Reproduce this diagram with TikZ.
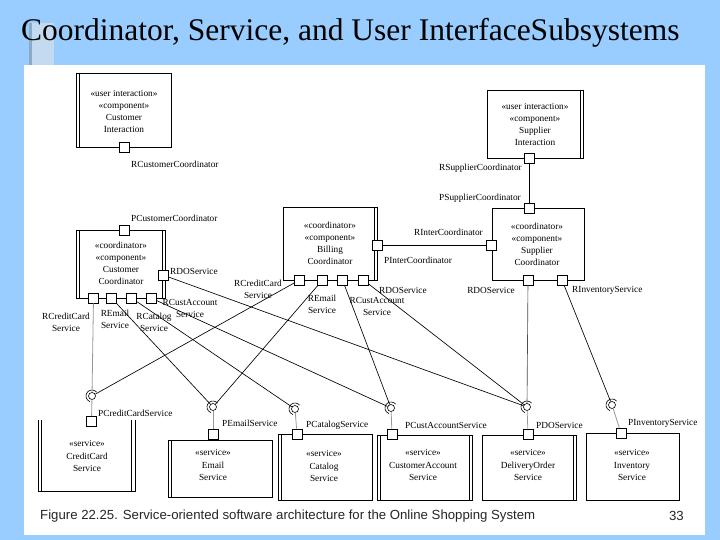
\documentclass[tikz,border=0pt]{standalone}
\usepackage{fontspec}
\setmainfont{Liberation Serif}
\newfontfamily\capfont{Liberation Sans}
\newcommand\dfont{\fontsize{9.3}{12}\selectfont}
\newcommand\sfontx{\fontsize{9.3}{12.5}\selectfont}
\definecolor{bgblue}{RGB}{153,204,255}
\definecolor{deco}{RGB}{196,218,240}
\definecolor{decodark}{RGB}{142,169,196}
\tikzset{
  box/.style={draw, line width=0.8pt, inner sep=0pt},
  dline/.style={line width=0.8pt},
  txt/.style={font=\dfont, align=center, inner sep=0pt},
  stxt/.style={font=\sfontx, align=center, inner sep=0pt},
  lbl/.style={font=\dfont, inner sep=0pt},
  port/.style={draw, fill=white, line width=0.8pt, minimum size=10pt, inner sep=0pt},
  ball/.style={circle, draw, fill=white, line width=0.6pt, minimum size=7pt, inner sep=0pt},
  sock/.style={line width=0.6pt},
  conn/.style={line width=0.65pt},
  gconn/.style={line width=0.8pt, draw=black!40},
}
\newcommand\mysocket[1]{\draw[sock] ([shift={(40:6pt)}]#1.center) arc[start angle=40,end angle=250,radius=6pt];}
\begin{document}
\begin{tikzpicture}[x=1pt,y=-1pt]
\useasboundingbox (0,0) rectangle (720,540);
\fill[bgblue] (0,0) rectangle (720,540);
\fill[white] (24,65) rectangle (705,535);
\fill[deco] (29,23) rectangle (54,65);
\fill[decodark] (29,23) rectangle (32,65);
\node[anchor=base west, font=\fontsize{31.5}{36}\selectfont, inner sep=0pt] (title) at (21,41) {Coordinator, Service, and User InterfaceSubsystems};

% ---------- top boxes ----------
\node[box, minimum width=95pt, minimum height=74pt] (ci) at (123.5,110) {};
\draw[dline] ([xshift=3.5pt]ci.north west) -- ([xshift=3.5pt]ci.south west);
\node[txt] (ci-t) at (124,111) {«user interaction»\\«component»\\Customer\\Interaction};

\node[box, minimum width=89pt, minimum height=68pt] (cc) at (120.5,264) {};
\draw[dline] ([xshift=3.5pt]cc.north west) -- ([xshift=3.5pt]cc.south west);
\draw[dline] ([xshift=-3.5pt]cc.north east) -- ([xshift=-3.5pt]cc.south east);
\node[txt] (cc-t) at (121,263.5) {«coordinator»\\«component»\\Customer\\Coordinator};

\node[box, minimum width=94pt, minimum height=73pt] (bc) at (330,243.5) {};
\draw[dline] ([xshift=-3.5pt]bc.north east) -- ([xshift=-3.5pt]bc.south east);
\node[txt] (bc-t) at (330,243.5) {«coordinator»\\«component»\\Billing\\Coordinator};

\node[box, minimum width=96pt, minimum height=68pt] (si) at (535,124) {};
\draw[dline] ([xshift=-3.5pt]si.north east) -- ([xshift=-3.5pt]si.south east);
\node[txt] (si-t) at (535,124) {«user interaction»\\«component»\\Supplier\\Interaction};

\node[box, minimum width=92pt, minimum height=72pt] (sc) at (538,244) {};
\node[txt] (sc-t) at (537,244) {«coordinator»\\«component»\\Supplier\\Coordinator};

% ---------- service boxes ----------
\draw[dline] (38,420) -- (38,491) -- (135,491) -- (135,420);
\draw[dline] (41.5,420) -- (41.5,491);
\draw[dline] (131.5,420) -- (131.5,491);
\node[stxt] (cs-t) at (87,456) {«service»\\CreditCard\\Service};

\node[box, minimum width=104pt, minimum height=57pt] (es) at (220,468.5) {};
\draw[dline] ([xshift=3.5pt]es.north west) -- ([xshift=3.5pt]es.south west);
\node[stxt] (es-t) at (213,465) {«service»\\Email\\Service};

\node[box, minimum width=94pt, minimum height=66pt] (cas) at (325,467) {};
\draw[dline] ([xshift=3.5pt]cas.north west) -- ([xshift=3.5pt]cas.south west);
\node[stxt] (cas-t) at (324,466) {«service»\\Catalog\\Service};

\node[box, minimum width=95pt, minimum height=65pt] (ca) at (424.5,467.5) {};
\draw[dline] ([xshift=3.5pt]ca.north west) -- ([xshift=3.5pt]ca.south west);
\draw[dline] ([xshift=-3.5pt]ca.north east) -- ([xshift=-3.5pt]ca.south east);
\node[stxt] (ca-t) at (423,465) {«service»\\CustomerAccount\\Service};

\node[box, minimum width=94pt, minimum height=65pt] (do) at (529,467.5) {};
\draw[dline] ([xshift=-3.5pt]do.north east) -- ([xshift=-3.5pt]do.south east);
\node[stxt] (do-t) at (528,465) {«service»\\DeliveryOrder\\Service};

\node[box, minimum width=93pt, minimum height=67pt] (is) at (632.5,466.5) {};
\node[stxt] (is-t) at (632,465) {«service»\\Inventory\\Service};

% ---------- ports ----------
\node[port] (p-ci) at (124,147) {};
\node[port] (p-cc-top) at (124,230) {};
\node[port] (p-cc-rdo) at (163,275) {};
\node[port] (p-cc-rcc) at (93.5,298) {};
\node[port] (p-cc-rem) at (111.5,298) {};
\node[port] (p-cc-rcat) at (131.5,298) {};
\node[port] (p-cc-rca) at (151,298) {};

\node[port] (p-bc-pi) at (377,245) {};
\node[port] (p-bc-1) at (299.5,280) {};
\node[port] (p-bc-2) at (322.5,280) {};
\node[port] (p-bc-3) at (342.5,280) {};
\node[port] (p-bc-4) at (363.5,280) {};

\node[port] (p-si) at (529,158) {};
\node[port] (p-sc-top) at (529,208) {};
\node[port] (p-sc-ri) at (491,245) {};
\node[port] (p-sc-rdo) at (528,280) {};
\node[port] (p-sc-rinv) at (562,280) {};

\node[port] (p-cs) at (91.5,421.5) {};
\node[port] (p-es) at (213,434) {};
\node[port] (p-cat) at (297,434) {};
\node[port] (p-ca) at (392,434) {};
\node[port] (p-do) at (528,434) {};
\node[port] (p-inv) at (621,433) {};

% ---------- balls ----------
\node[ball] (b-cs) at (92,396) {};
\node[ball] (b-es) at (213,407) {};
\node[ball] (b-cat) at (295,409) {};
\node[ball] (b-ca) at (391,408) {};
\node[ball] (b-do) at (527,407) {};
\node[ball] (b-inv) at (612,405) {};
\mysocket{b-cs}
\mysocket{b-es}
\mysocket{b-cat}
\mysocket{b-ca}
\mysocket{b-do}
\mysocket{b-inv}

% ---------- connectors ----------
\draw[conn] (p-bc-pi) -- (p-sc-ri);
\draw[conn] (p-si) -- (p-sc-top);

\draw[gconn] (p-cc-rcc) -- (b-cs);
\draw[conn] (p-cc-rem) -- (b-es);
\draw[conn] (p-cc-rcat) -- (b-cat);
\draw[conn] (p-cc-rca) -- (b-ca);
\draw[conn] (p-cc-rdo) -- (b-do);

\draw[conn] (p-bc-1) -- (b-cs);
\draw[conn] (p-bc-2) -- (b-es);
\draw[conn] (p-bc-3) -- (b-ca);
\draw[conn] (p-bc-4) -- (b-do);

\draw[conn, draw=black!70] (p-sc-rdo) -- (b-do);
\draw[conn] (p-sc-rinv) -- (b-inv);

\draw[gconn] (b-cs) -- (p-cs);
\draw[gconn] (b-es) -- (p-es);
\draw[gconn] (b-cat) -- (p-cat);
\draw[gconn] (b-ca) -- (p-ca);
\draw[gconn] (b-do) -- (p-do);
\draw[gconn] (b-inv) -- (p-inv);

% ---------- labels ----------
\node[lbl, anchor=west] (l1) at (131,164) {RCustomerCoordinator};
\node[lbl, anchor=west] (l2) at (131,218) {PCustomerCoordinator};
\node[lbl, anchor=west] (l3) at (170,271) {RDOService};
\node[lbl, align=center] (l4) at (66,322) {RCreditCard\\Service};
\node[lbl, align=center] (l5) at (115,319) {REmail\\Service};
\node[lbl, align=center] (l6) at (154,322) {RCatalog\\Service};
\node[lbl, align=center] (l7) at (190,308) {RCustAccount\\Service};
\node[lbl, anchor=west] (l8) at (384,260) {PInterCoordinator};
\node[lbl, anchor=east] (l9) at (483,232) {RInterCoordinator};
\node[lbl, align=center] (l10) at (258,289) {RCreditCard\\Service};
\node[lbl, align=center] (l11) at (322,304) {REmail\\Service};
\node[lbl, align=center] (l12) at (377,306) {RCustAccount\\Service};
\node[lbl, anchor=west] (l13) at (379,290) {RDOService};
\node[lbl, anchor=east] (l14) at (522,168) {RSupplierCoordinator};
\node[lbl, anchor=east] (l15) at (521,198) {PSupplierCoordinator};
\node[lbl, anchor=east] (l16) at (515,290) {RDOService};
\node[lbl, anchor=west] (l17) at (572,290) {RInventoryService};
\node[lbl, anchor=west] (l18) at (98,413) {PCreditCardService};
\node[lbl, anchor=west] (l19) at (222,423) {PEmailService};
\node[lbl, anchor=west] (l20) at (306,425) {PCatalogService};
\node[lbl, anchor=west] (l21) at (405,425) {PCustAccountService};
\node[lbl, anchor=west] (l22) at (536,425) {PDOService};
\node[lbl, anchor=west] (l23) at (628,423) {PInventoryService};

% ---------- caption ----------
\node[anchor=west, font=\capfont\fontsize{13.2}{15}\selectfont, text=black!85, inner sep=0pt] (cap) at (40,516) {Figure 22.25. Service-oriented software architecture for the Online Shopping System};
\node[anchor=east, font=\capfont\fontsize{13.2}{15}\selectfont, text=black!85, inner sep=0pt] (pg) at (684,516) {33};
\end{tikzpicture}
\end{document}
